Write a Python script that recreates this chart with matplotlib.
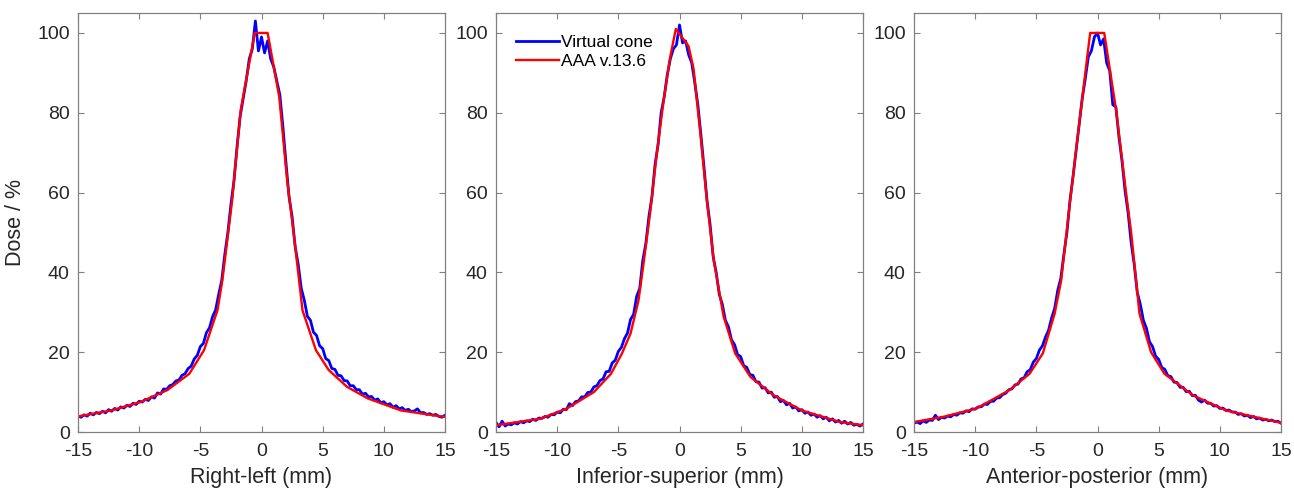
import numpy as np
import matplotlib
matplotlib.use('Agg')
import matplotlib.pyplot as plt

matplotlib.rcParams.update({'font.family': ['Liberation Sans', 'DejaVu Sans'],
                            'font.size': 14, 'axes.unicode_minus': False})

# blue curves sampled every 0.25 mm from -15 to 15
x_vc = np.arange(-15, 15.001, 0.25)

vc_rl = [4.0, 3.7, 4.3, 4.0, 4.7, 4.3, 4.9, 4.6, 5.2, 4.8, 5.6, 5.2, 5.9, 5.5, 6.3, 6.0,
         6.7, 6.4, 7.2, 6.9, 7.7, 7.5, 8.2, 7.9, 8.8, 8.5, 9.8, 9.5, 10.8, 10.7, 11.6, 11.9,
         12.8, 13.0, 14.2, 14.6, 15.9, 16.5, 18.3, 19.2, 21.4, 22.2, 24.9, 26.1, 28.9, 30.6,
         34.5, 38.0, 44.5, 50.0, 57.0, 63.0, 71.5, 79.0, 83.5, 88.0, 93.5, 96.0, 103.0, 95.5,
         99.0, 95.0, 98.0, 93.5, 91.5, 88.0, 84.5, 76.5, 67.5, 59.0, 54.0, 46.5, 42.0, 36.0,
         33.0, 29.0, 28.0, 25.0, 24.2, 21.6, 20.9, 18.4, 17.9, 15.9, 15.7, 14.2, 14.1, 12.9,
         12.8, 11.6, 11.6, 10.6, 10.6, 9.5, 9.7, 8.8, 8.9, 8.0, 8.3, 7.3, 7.6, 6.8, 7.1, 6.2,
         6.6, 5.8, 6.1, 5.4, 5.7, 5.1, 5.3, 5.8, 4.8, 4.9, 4.4, 4.6, 4.2, 4.4, 3.9, 3.7, 4.2]

vc_is = [2.4, 1.3, 2.7, 1.5, 2.0, 1.8, 2.3, 2.0, 2.6, 2.3, 2.8, 2.6, 3.2, 2.9, 3.5, 3.4,
         3.9, 3.7, 4.4, 4.3, 5.0, 4.8, 5.7, 5.6, 7.1, 6.6, 7.6, 7.8, 8.8, 8.8, 9.9, 10.0,
         11.3, 11.6, 12.9, 13.3, 15.1, 15.2, 17.3, 18.0, 20.2, 21.2, 23.4, 24.8, 28.2, 29.5,
         34.0, 36.0, 43.0, 47.3, 54.0, 59.0, 67.0, 72.0, 80.0, 84.0, 89.5, 93.5, 96.0, 97.0,
         102.0, 97.5, 98.0, 94.5, 92.5, 87.5, 82.0, 74.5, 66.5, 58.0, 52.0, 44.0, 40.0, 34.5,
         32.0, 28.0, 26.4, 23.1, 21.9, 19.4, 18.9, 16.6, 16.2, 14.4, 14.2, 12.6, 12.5, 11.0,
         11.1, 9.8, 10.0, 8.7, 8.9, 7.6, 7.9, 6.8, 7.2, 6.0, 6.3, 5.3, 5.6, 4.7, 5.0, 4.2,
         4.5, 3.7, 4.1, 3.3, 3.7, 2.8, 3.3, 2.5, 2.9, 2.2, 2.7, 2.0, 2.4, 1.7, 1.9, 1.5, 2.0]

vc_ap = [2.2, 2.5, 2.1, 2.8, 2.4, 3.0, 2.9, 4.2, 3.1, 3.7, 3.5, 4.0, 3.8, 4.4, 4.2, 4.8,
         4.7, 5.3, 5.1, 5.8, 5.7, 6.3, 6.3, 7.0, 6.9, 7.7, 7.7, 8.5, 8.6, 9.4, 9.7, 10.6,
         10.8, 11.8, 12.0, 13.3, 13.6, 15.1, 15.6, 17.5, 18.4, 20.5, 21.6, 23.8, 25.5, 28.6,
         31.0, 35.5, 38.5, 44.5, 50.0, 58.0, 64.0, 70.5, 77.0, 83.5, 88.5, 94.0, 95.5, 99.0,
         100.0, 97.0, 98.5, 92.5, 90.5, 82.0, 81.5, 74.0, 68.0, 60.5, 55.0, 47.5, 42.0, 35.0,
         32.0, 28.0, 26.0, 22.6, 21.4, 19.0, 18.2, 16.2, 15.7, 14.1, 13.9, 12.5, 12.4, 11.2,
         11.2, 10.1, 10.2, 9.1, 9.2, 8.0, 7.5, 8.0, 7.2, 7.2, 6.5, 6.6, 5.9, 6.0, 5.4, 5.5,
         5.0, 5.0, 4.4, 4.6, 4.0, 4.2, 3.6, 3.9, 3.3, 3.5, 3.0, 3.2, 2.8, 3.0, 2.6, 2.7, 2.2]

# red curves (AAA v.13.6), read at their kinks
aaa_rl_x = [-15, -12.3, -9.9, -7.7, -5.9, -4.7, -3.6, -3.2, -2.4, -1.7, -0.55, 0.5,
            1.45, 2.1, 2.7, 3.35, 4.45, 5.5, 7.0, 8.7, 11.4, 14.7, 15]
aaa_rl_y = [3.9, 5.4, 7.5, 10.5, 14.6, 20.5, 30.5, 38, 58, 80.7, 100, 100,
            84, 63, 48, 30.5, 20.5, 15.5, 11.3, 8.4, 5.4, 3.9, 3.8]

aaa_is_x = [-15, -11.4, -9.2, -7.0, -5.6, -4.7, -4.0, -3.35, -2.95, -2.4, -1.85, -1.3,
            -0.76, -0.3, 0.74, 1.15, 1.7, 2.24, 2.8, 3.6, 4.55, 5.8, 7.7, 10, 13.1, 15]
aaa_is_y = [1.7, 3.3, 5.9, 10, 14.6, 19.7, 24.7, 33, 42, 55, 70, 83,
            94, 101, 96.7, 91, 75, 58, 43, 29, 19.7, 13.8, 9.2, 5.4, 2.5, 1.7]

aaa_ap_x = [-15, -12.6, -9.9, -7.2, -5.55, -4.47, -3.5, -2.97, -2.29, -1.47, -0.6, 0.55,
            1.52, 2.34, 2.75, 3.43, 4.38, 5.47, 7.8, 10.5, 15]
aaa_ap_y = [2.5, 3.8, 5.9, 10.5, 14.6, 19.7, 29.7, 38, 56.5, 78, 100, 100,
            80.7, 59.8, 50, 29.7, 20, 14.6, 9.2, 5.4, 2.3]

panels = [(vc_rl, aaa_rl_x, aaa_rl_y, 'Right-left (mm)'),
          (vc_is, aaa_is_x, aaa_is_y, 'Inferior-superior (mm)'),
          (vc_ap, aaa_ap_x, aaa_ap_y, 'Anterior-posterior (mm)')]

fig = plt.figure(figsize=(12.94, 4.9), dpi=100)
lefts = [78, 496, 914]
txt = '#262626'

for i, (vc, ax_x, ax_y, xlab) in enumerate(panels):
    ax = fig.add_axes([lefts[i] / 1294, 58 / 490, 367 / 1294, 419 / 490])
    ax.plot(x_vc, vc, color='#0000ff', lw=2.0, label='Virtual cone')
    ax.plot(ax_x, ax_y, color='#ff0000', lw=1.7, label='AAA v.13.6')
    ax.set_xlim(-15, 15)
    ax.set_ylim(0, 105)
    ax.set_xticks(np.arange(-15, 16, 5))
    ax.set_yticks(np.arange(0, 101, 20))
    ax.tick_params(direction='in', top=True, right=True, length=4, width=0.8,
                   color='#808080', labelcolor=txt, labelsize=14)
    ax.tick_params(axis='x', pad=8)
    ax.tick_params(axis='y', pad=6)
    for s in ax.spines.values():
        s.set_color('#808080')
        s.set_linewidth(0.9)
    ax.set_xlabel(xlab, fontsize=15.5, color=txt, labelpad=5)
    if i == 0:
        ax.set_ylabel('Dose / %', fontsize=15.5, color=txt, labelpad=8)
    if i == 1:
        ax.legend(loc='upper left', frameon=False, fontsize=12.5, handlelength=2.5,
                  handletextpad=0.1, borderaxespad=0.0, labelspacing=0.25,
                  bbox_to_anchor=(0.035, 0.965))

fig.savefig('out.png', dpi=100)
